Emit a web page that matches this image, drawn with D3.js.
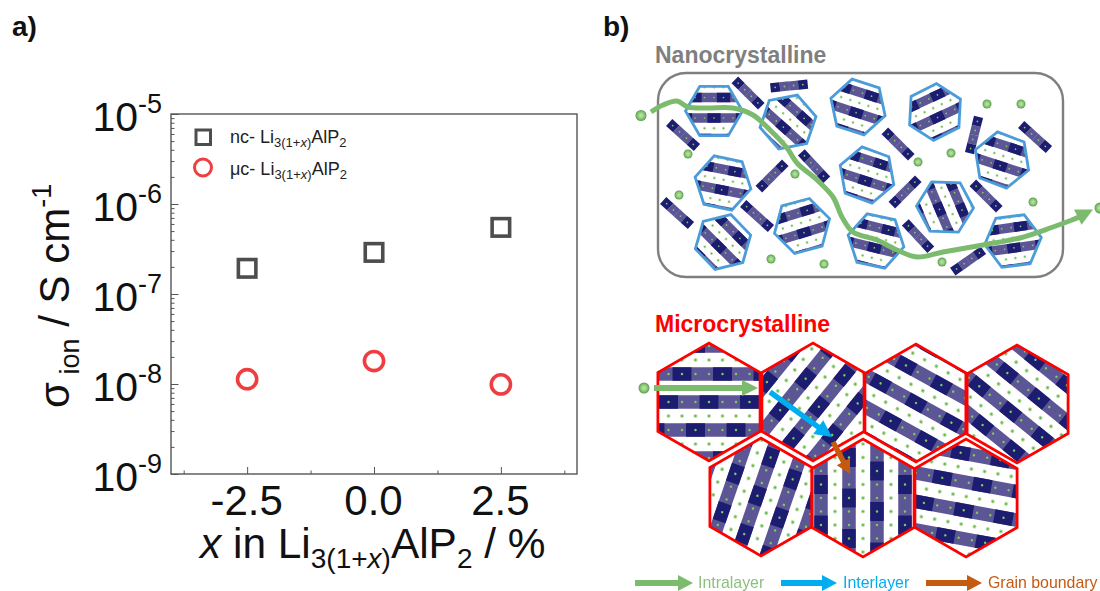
<!DOCTYPE html>
<html>
<head>
<meta charset="utf-8">
<script src="https://cdn.jsdelivr.net/npm/d3@7/dist/d3.min.js"></script>
<style>
  body { margin: 0; background: #fff; }
  svg { display: block; font-family: "Liberation Sans", Arial, sans-serif; }
</style>
</head>
<body>
<script>
/***** Data *****/
var compositions = [-2.5, 0.0, 2.5];
var ncConductivity = [1.93e-7, 2.9e-7, 5.5e-7];
var mcConductivity = [1.13e-8, 1.8e-8, 9.9e-9];
var xTickLabels = ["-2.5", "0.0", "2.5"];
var yDecades = [1e-5, 1e-6, 1e-7, 1e-8, 1e-9];
var yExponents = ["-5", "-6", "-7", "-8", "-9"];

/***** Schematic layout: [cx, cy, hexagon rotation, layer angle, layer offset] *****/
var nanoGrains = [
  [714, 111, 0, 0, 7], [788, 122, -11, 42, 7], [858, 107, 18, 18, 6], [935, 112, -27, -25, 6],
  [1002, 160, 21, 18, 6], [723, 183, 12, 11, 7], [867, 175, 20, 18, 6], [945, 207, 2, 67, 6],
  [802, 226, -15, -17, 7], [723, 242, -14, 45, 6], [876, 241, 12, 14, 7], [1013, 241, -7, -8, 7]
];
var nanoRods = [
  [748, 93, 45], [789, 86, -6], [683, 135, 42], [898, 144, 45], [974, 135, -76], [1035, 137, 42],
  [772, 176, -45], [814, 166, 47], [905, 192, -45], [986, 196, 45], [677, 213, 42], [757, 216, 42],
  [918, 236, 47], [968, 261, -35]
];
var nanoIons = [
  [688, 154], [795, 174], [679, 195], [771, 259], [824, 264], [942, 262], [918, 162], [951, 153],
  [987, 104], [1021, 104], [1033, 202]
];
var pathwayPoints = [
  [651, 112], [663, 105], [677, 101], [688, 107], [707, 108], [733, 108], [753, 115], [770, 130],
  [787, 148], [797, 163], [817, 180], [833, 197], [842, 217], [853, 232], [877, 240], [897, 250],
  [917, 257], [943, 252], [983, 245], [1020, 238], [1053, 227], [1080, 217]
];
var microGrains = [
  [709, 402, 30, 0, 0], [813, 402, 30, -51, 7.6], [916, 403, 30, 29, 0], [1017, 404, 30, 39, 10],
  [761, 497, 30, -71, -3.8], [863, 498, 30, 90, 14], [966, 498, 30, 10.5, 12.5]
];

/***** Configuration *****/
var width = 1100, height = 591;
var chartMargin = { top: 114, right: 523, bottom: 117, left: 171 };
var chartWidth = width - chartMargin.left - chartMargin.right;
var chartHeight = height - chartMargin.top - chartMargin.bottom;
var axisColor = "#555555", inkColor = "#111111";
var green = "#7cbb6e", blue = "#00aeef", orange = "#c55a11";

var svg = d3.select("body").append("svg").attr("width", width).attr("height", height);
var defs = svg.append("defs");

var ionGradient = defs.append("radialGradient").attr("id", "ionGradient");
ionGradient.append("stop").attr("offset", "0%").attr("stop-color", "#c4e4ae");
ionGradient.append("stop").attr("offset", "55%").attr("stop-color", "#93cb7c");
ionGradient.append("stop").attr("offset", "100%").attr("stop-color", "#559f4a");

defs.append("filter").attr("id", "soft").append("feGaussianBlur").attr("stdDeviation", 0.45);

/***** Panel labels *****/
svg.append("text").attr("x", 12).attr("y", 36).attr("font-size", 28).attr("font-weight", "bold").attr("fill", inkColor).text("a)");
svg.append("text").attr("x", 603).attr("y", 36).attr("font-size", 28).attr("font-weight", "bold").attr("fill", inkColor).text("b)");

/***** Scales *****/
var xScale = d3.scaleLinear().domain([-4, 4]).range([0, chartWidth]);
var yScale = d3.scaleLog().domain([1e-9, 1e-5]).range([chartHeight, 0]);

var chart = svg.append("g").attr("transform", "translate(" + chartMargin.left + "," + chartMargin.top + ")");

chart.append("rect").attr("width", chartWidth).attr("height", chartHeight)
    .attr("fill", "none").attr("stroke", axisColor).attr("stroke-width", 1.4);

/***** Axes *****/
var yMinor = [];
yDecades.slice(1).forEach(function (d) {
  d3.range(2, 10).forEach(function (m) { yMinor.push(d * m); });
});

function styleAxis(g) {
  g.select(".domain").remove();
  g.selectAll("line").attr("stroke", axisColor).attr("stroke-width", 1);
}

chart.append("g").call(d3.axisLeft(yScale).tickValues(yMinor).tickSize(-3.5).tickFormat("")).call(styleAxis);
var yAxisG = chart.append("g").call(d3.axisLeft(yScale).tickValues(yDecades).tickSize(-7.5).tickFormat("")).call(styleAxis);
chart.append("g").attr("transform", "translate(0," + chartHeight + ")")
    .call(d3.axisBottom(xScale).tickValues([-3.75, -1.25, 1.25, 3.75]).tickSize(-3.5).tickFormat("")).call(styleAxis);
var xAxisG = chart.append("g").attr("transform", "translate(0," + chartHeight + ")")
    .call(d3.axisBottom(xScale).tickValues(compositions).tickSize(-7).tickFormat(function (d, i) { return xTickLabels[i]; })).call(styleAxis);

xAxisG.selectAll("text").attr("x", -1).attr("y", 28).attr("dy", 13).attr("font-size", 42).attr("font-family", "Liberation Sans").attr("fill", inkColor);

yAxisG.selectAll(".tick").each(function (d, i) {
  var label = d3.select(this).append("text")
      .attr("x", -9).attr("y", 16).attr("text-anchor", "end")
      .attr("font-family", "Liberation Sans").attr("font-size", 41).attr("fill", inkColor);
  label.append("tspan").text("10");
  label.append("tspan").attr("font-size", 27).attr("dy", -18).text(yExponents[i]);
});

/***** Points *****/
var squareSize = 17.5, circleRadius = 9.6;
var markColor = "#4d4d4d", circleColor = "#ef3e42";

chart.selectAll(".nc").data(compositions).enter().append("rect")
    .attr("class", "nc")
    .attr("x", function (d) { return xScale(d) - squareSize / 2; })
    .attr("y", function (d, i) { return yScale(ncConductivity[i]) - squareSize / 2; })
    .attr("width", squareSize).attr("height", squareSize)
    .attr("fill", "none").attr("stroke", markColor).attr("stroke-width", 3.6);

chart.selectAll(".mc").data(compositions).enter().append("circle")
    .attr("class", "mc")
    .attr("cx", function (d) { return xScale(d); })
    .attr("cy", function (d, i) { return yScale(mcConductivity[i]); })
    .attr("r", circleRadius)
    .attr("fill", "none").attr("stroke", circleColor).attr("stroke-width", 3.6);

/***** Legend *****/
function legendLabel(prefix, y) {
  var t = svg.append("text").attr("x", 230).attr("y", y).attr("font-size", 18).attr("fill", "#222");
  t.append("tspan").text(prefix + " Li");
  t.append("tspan").attr("font-size", 13).attr("dy", 4).text("3(1+");
  t.append("tspan").attr("font-size", 13).attr("font-style", "italic").text("x");
  t.append("tspan").attr("font-size", 13).text(")");
  t.append("tspan").attr("dy", -4).text("AlP");
  t.append("tspan").attr("font-size", 13).attr("dy", 4).text("2");
}
svg.append("rect").attr("x", 196).attr("y", 130).attr("width", 14.5).attr("height", 14.5)
    .attr("fill", "none").attr("stroke", markColor).attr("stroke-width", 3);
svg.append("circle").attr("cx", 203).attr("cy", 167.5).attr("r", 8.5)
    .attr("fill", "none").attr("stroke", circleColor).attr("stroke-width", 3);
legendLabel("nc-", 143);
legendLabel("\u03bcc-", 175);

/***** Axis titles *****/
var xTitle = svg.append("text").attr("x", 200).attr("y", 558).attr("font-size", 42.4).attr("fill", inkColor);
xTitle.append("tspan").attr("font-style", "italic").text("x");
xTitle.append("tspan").text(" in Li");
xTitle.append("tspan").attr("font-size", 28).attr("dy", 10).text("3(1+");
xTitle.append("tspan").attr("font-size", 28).attr("font-style", "italic").text("x");
xTitle.append("tspan").attr("font-size", 28).text(")");
xTitle.append("tspan").attr("dy", -10).text("AlP");
xTitle.append("tspan").attr("font-size", 28).attr("dy", 10).text("2");
xTitle.append("tspan").attr("dy", -10).text(" / %");

var yTitle = svg.append("text").attr("transform", "translate(69,408) rotate(-90)").attr("font-size", 42).attr("fill", inkColor);
yTitle.append("tspan").text("\u03c3");
yTitle.append("tspan").attr("font-size", 27).attr("dy", 10).text(" ion");
yTitle.append("tspan").attr("dy", -10).text(" / S cm");
yTitle.append("tspan").attr("font-size", 27).attr("dy", -18).text("-1");

/***** Schematic helpers *****/
var navy = "#1c1c70", slate = "#5b5796", ionColor = "#7ecb5a";
var clipCount = 0;

function hexPoints(r, rot) {
  return d3.range(6).map(function (i) {
    var a = (rot + i * 60) * Math.PI / 180;
    return [r * Math.cos(a), r * Math.sin(a)].join(",");
  }).join(" ");
}

// one crystal: alternating tiled layers and ion rows, clipped to a hexagon
function drawGrain(parent, grain, r, tile, period) {
  var rot = grain[2], id = "grain" + (clipCount++);
  defs.append("clipPath").attr("id", id).append("polygon").attr("points", hexPoints(r, rot));
  var g = parent.append("g").attr("transform", "translate(" + grain[0] + "," + grain[1] + ")").attr("clip-path", "url(#" + id + ")");
  g.append("polygon").attr("points", hexPoints(r, rot)).attr("fill", "#fff");
  var inner = g.append("g").attr("transform", "rotate(" + grain[3] + ")");
  var rows = d3.range(-Math.ceil(r / period) - 1, Math.ceil(r / period) + 2);
  var cols = d3.range(-Math.ceil(r / tile) - 1, Math.ceil(r / tile) + 2);
  rows.forEach(function (row) {
    var y = row * period + grain[4];
    inner.append("rect").attr("x", cols[0] * tile).attr("y", y - tile / 2)
        .attr("width", cols.length * tile).attr("height", tile).attr("fill", slate);
    cols.forEach(function (c) {
      if ((((c + row) % 3) + 3) % 3 === 0) {
        inner.append("rect").attr("x", c * tile - tile * 0.7).attr("y", y - tile / 2)
            .attr("width", tile * 1.4).attr("height", tile).attr("fill", navy);
      }
      inner.append("circle").attr("cx", c * tile).attr("cy", y).attr("r", tile / 11).attr("fill", ionColor);
      inner.append("circle").attr("cx", c * tile).attr("cy", y + period / 2).attr("r", tile / 6.5).attr("fill", "#b9dfa8");
      inner.append("circle").attr("cx", c * tile).attr("cy", y + period / 2).attr("r", tile / 13).attr("fill", "#5fb845");
    });
  });
}

function drawRod(parent, rod) {
  var tile = 9.3;
  var g = parent.append("g").attr("transform", "translate(" + rod[0] + "," + rod[1] + ") rotate(" + rod[2] + ")");
  d3.range(4).forEach(function (i) {
    g.append("rect").attr("x", (i - 2) * tile).attr("y", -tile / 2).attr("width", tile + 0.2).attr("height", tile)
        .attr("fill", i % 3 === 0 ? navy : slate);
    g.append("circle").attr("cx", (i - 1.5) * tile).attr("cy", 0).attr("r", 0.9).attr("fill", ionColor);
  });
}

function drawIon(parent, x, y, r) {
  parent.append("circle").attr("cx", x).attr("cy", y).attr("r", r).attr("fill", "url(#ionGradient)");
}

function drawArrow(parent, x1, y1, x2, y2, color, bodyWidth, headWidth, headLength) {
  var a = Math.atan2(y2 - y1, x2 - x1) * 180 / Math.PI;
  var len = Math.hypot(x2 - x1, y2 - y1);
  var g = parent.append("g").attr("transform", "translate(" + x1 + "," + y1 + ") rotate(" + a + ")");
  g.append("rect").attr("x", 0).attr("y", -bodyWidth / 2).attr("width", len - headLength + 1).attr("height", bodyWidth).attr("fill", color);
  g.append("polygon").attr("points", [[len - headLength, -headWidth / 2], [len, 0], [len - headLength, headWidth / 2]].join(" ")).attr("fill", color);
}

/***** Panel b, nanocrystalline *****/
svg.append("text").attr("x", 655).attr("y", 63).attr("font-size", 23).attr("font-weight", "bold").attr("fill", "#7f7f7f").text("Nanocrystalline");
var nano = svg.append("g").attr("filter", "url(#soft)");
nano.append("rect").attr("x", 658).attr("y", 73).attr("width", 405).attr("height", 204).attr("rx", 28)
    .attr("fill", "none").attr("stroke", "#7f7f7f").attr("stroke-width", 2.4);

nanoRods.forEach(function (d) { drawRod(nano, d); });
nanoGrains.forEach(function (d) { drawGrain(nano, d, 28.5, 9.5, 20.5); });
nanoGrains.forEach(function (d) {
  nano.append("polygon").attr("points", hexPoints(28.5, d[2]))
      .attr("transform", "translate(" + d[0] + "," + d[1] + ")")
      .attr("fill", "none").attr("stroke", "#4b9cd9").attr("stroke-width", 2.8);
});
nanoIons.forEach(function (d) { drawIon(nano, d[0], d[1], 4.5); });
drawIon(nano, 641, 115.5, 5.5);
drawIon(nano, 1100, 208, 5.5);

nano.append("path").datum(pathwayPoints)
    .attr("d", d3.line().curve(d3.curveCatmullRom.alpha(0.5)))
    .attr("fill", "none").attr("stroke", green).attr("stroke-width", 5);
drawArrow(nano, 1072, 220, 1093, 209.5, green, 4.5, 17, 17);

/***** Panel b, microcrystalline *****/
svg.append("text").attr("x", 655).attr("y", 332).attr("font-size", 23).attr("font-weight", "bold").attr("fill", "#ff0000").text("Microcrystalline");
var micro = svg.append("g").attr("filter", "url(#soft)");
microGrains.forEach(function (d) { drawGrain(micro, d, 59, 13.5, 28); });
microGrains.forEach(function (d) {
  micro.append("polygon").attr("points", hexPoints(59, d[2]))
      .attr("transform", "translate(" + d[0] + "," + d[1] + ")")
      .attr("fill", "none").attr("stroke", "#ff0000").attr("stroke-width", 2.8);
});
drawIon(micro, 644, 388, 5.5);
drawArrow(micro, 654, 388, 758, 388, green, 6, 16, 16);
drawArrow(micro, 770, 392, 832, 437, blue, 5.5, 17, 17);
drawArrow(micro, 833, 442, 850, 474, orange, 5.5, 15, 14);

/***** Pathway key *****/
var keyItems = [
  { x1: 635, x2: 693, color: green, labelColor: "#8cc07c", label: "Intralayer", labelX: 698 },
  { x1: 781, x2: 837, color: blue, labelColor: blue, label: "Interlayer", labelX: 843 },
  { x1: 926, x2: 982, color: orange, labelColor: orange, label: "Grain boundary", labelX: 988 }
];
keyItems.forEach(function (k) {
  drawArrow(svg, k.x1, 583, k.x2, 583, k.color, 6, 16, 15);
  svg.append("text").attr("x", k.labelX).attr("y", 588).attr("font-size", 15.9).attr("fill", k.labelColor).text(k.label);
});
</script>
</body>
</html>
